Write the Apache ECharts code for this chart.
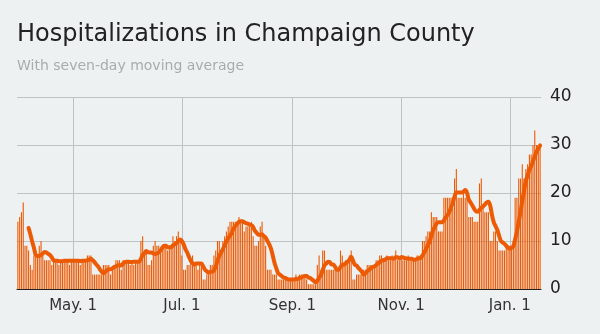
<!DOCTYPE html>
<html>
<head>
<meta charset="utf-8">
<script src="https://cdn.jsdelivr.net/npm/echarts@6/dist/echarts.min.js"></script>
<style>
  html, body { margin: 0; padding: 0; background: #edf1f2; }
  #chart { width: 600px; height: 334px; }
</style>
</head>
<body>
<div id="chart"></div>
<script>
// First day of the daily series (UTC); one bar per day from here on.
const startDate = [2020, 2, 31];

// Daily hospitalizations, Mar 31 2020 - Jan 18 2021
const hospitalized = [
  14,15,16,18,9,9,8,5,4,7,
  8,7,9,10,7,6,6,6,6,5,
  6,6,6,5,6,6,6,6,6,5,
  6,6,6,6,6,5,6,6,6,7,
  7,7,3,3,3,3,3,3,5,5,
  5,5,3,4,5,6,6,6,4,6,
  6,6,6,5,6,5,6,6,6,10,
  11,8,8,5,5,6,9,10,9,9,
  8,9,9,9,8,9,9,11,10,11,
  12,10,7,4,4,5,5,6,7,5,
  5,4,5,5,2,2,3,3,5,5,
  7,8,10,10,8,10,11,12,13,14,
  14,14,14,14,15,14,14,12,13,13,
  13,14,11,9,9,10,13,14,11,9,
  4,4,4,3,3,3,2,2,2,2,
  2,2,2,2,2,2,3,2,3,3,
  3,3,2,1,1,1,1,1,5,7,
  4,8,8,4,4,4,4,4,4,4,
  4,8,7,5,6,6,7,8,2,2,
  3,3,3,4,4,4,5,5,5,5,
  5,6,6,7,7,6,6,7,6,6,
  7,6,8,6,6,7,6,6,6,7,
  6,6,6,6,7,7,7,10,10,11,
  12,12,16,15,15,15,12,12,12,19,
  19,19,19,19,17,23,25,19,19,19,
  20,19,19,15,15,15,14,14,14,22,
  23,17,16,16,16,10,10,12,12,10,
  8,8,8,8,9,9,9,9,10,19,
  19,23,23,26,23,25,26,28,28,30,
  33,30,30,30
];

// Seven-day moving average (starts on the seventh day)
const movingAverage = [
  null,null,null,null,null,null,12.7,11.4,9.9,8.6,
  7.1,6.9,6.9,7.1,7.4,7.7,7.6,7.3,7.1,6.6,
  6.0,5.9,5.9,5.8,5.8,5.8,5.9,5.9,5.9,5.9,
  5.9,5.9,5.9,5.9,5.9,5.8,5.9,5.9,5.9,6.0,
  6.1,6.3,6.0,5.6,5.1,4.7,4.1,3.6,3.3,3.6,
  3.9,4.1,4.1,4.3,4.6,4.7,4.9,5.0,4.9,5.3,
  5.6,5.7,5.7,5.6,5.6,5.7,5.7,5.7,5.7,6.3,
  7.1,7.4,7.9,7.7,7.6,7.6,7.4,7.3,7.4,7.6,
  8.0,8.6,9.0,9.0,8.7,8.7,8.7,9.1,9.3,9.6,
  10.0,10.3,10.0,9.3,8.3,7.6,6.7,5.9,5.4,5.1,
  5.3,5.3,5.3,5.3,4.7,4.0,3.7,3.4,3.6,3.6,
  3.9,4.7,5.9,6.9,7.6,8.3,9.1,9.9,10.6,11.1,
  11.7,12.6,13.1,13.6,14.0,14.1,14.1,13.9,13.7,13.6,
  13.4,13.3,12.9,12.1,11.7,11.3,11.3,11.4,11.0,10.7,
  10.0,9.3,8.4,7.0,5.4,4.3,3.3,3.0,2.7,2.4,
  2.3,2.1,2.0,2.0,2.0,2.0,2.1,2.1,2.3,2.4,
  2.6,2.7,2.7,2.4,2.3,2.0,1.7,1.4,1.7,2.4,
  2.9,3.9,4.9,5.3,5.7,5.6,5.1,5.1,4.6,4.0,
  4.0,4.6,5.0,5.1,5.4,5.7,6.1,6.7,5.9,5.1,
  4.9,4.4,4.0,3.6,3.0,3.3,3.7,4.0,4.3,4.6,
  4.7,5.0,5.3,5.6,5.9,6.0,6.1,6.4,6.4,6.4,
  6.4,6.3,6.6,6.6,6.4,6.6,6.6,6.4,6.4,6.3,
  6.3,6.3,6.1,6.1,6.3,6.4,6.4,7.0,7.6,8.3,
  9.1,9.9,11.1,12.3,13.0,13.7,13.9,13.9,13.9,14.3,
  14.9,15.4,16.0,17.0,17.9,19.3,20.1,20.1,20.1,20.1,
  20.3,20.6,20.0,18.6,18.0,17.4,16.7,16.2,16.1,16.5,
  16.9,17.2,17.6,18.0,18.2,17.4,15.4,13.9,13.1,12.3,
  11.1,10.0,9.7,9.4,9.0,8.6,8.4,8.6,8.9,10.4,
  12.0,14.0,16.0,18.4,20.4,22.6,23.6,24.9,25.6,26.6,
  27.6,28.6,29.3,29.9
];

// Dates that get a label and a vertical grid line
const tickDates = ['2020-05-01', '2020-07-01', '2020-09-01', '2020-11-01', '2021-01-01'];
const tickLabels = ['May. 1', 'Jul. 1', 'Sep. 1', 'Nov. 1', 'Jan. 1'];

const titleText = 'Hospitalizations in Champaign County';
const subtitleText = 'With seven-day moving average';

// Category axis: one ISO date per bar
const days = hospitalized.map(function (_, i) {
  const d = new Date(Date.UTC(startDate[0], startDate[1], startDate[2] + i));
  return d.toISOString().slice(0, 10);
});

const isTick = function (index, value) { return tickDates.indexOf(value) !== -1; };

const ORANGE = '#ec5a04';
const GRID = '#bfc2c3';
const FONT = 'DejaVu Sans';

const chart = echarts.init(document.getElementById('chart'), null, { renderer: 'canvas' });

chart.setOption({
  backgroundColor: '#edf1f2',
  animation: false,
  title: [
    {
      text: titleText,
      left: 17,
      top: 23,
      padding: 0,
      textStyle: { fontFamily: FONT, fontSize: 24, fontWeight: 'normal', color: '#222' }
    },
    {
      text: subtitleText,
      left: 17,
      top: 59,
      padding: 0,
      textStyle: { fontFamily: FONT, fontSize: 14, fontWeight: 'normal', color: '#a9acad' }
    }
  ],
  grid: { left: 17, right: 59, top: 97, bottom: 45, containLabel: false },
  xAxis: {
    type: 'category',
    data: days,
    boundaryGap: true,
    axisLine: { show: true, lineStyle: { color: '#222', width: 1 } },
    axisTick: { show: false },
    axisLabel: {
      interval: isTick,
      formatter: function (v) { return tickLabels[tickDates.indexOf(v)]; },
      color: '#333',
      fontFamily: FONT,
      fontSize: 15,
      margin: 10
    },
    splitLine: {
      show: true,
      interval: isTick,
      alignWithLabel: true,
      lineStyle: { color: GRID, width: 1 }
    }
  },
  yAxis: {
    type: 'value',
    position: 'right',
    min: 0,
    max: 40,
    interval: 10,
    axisLine: { show: false },
    axisTick: { show: false },
    axisLabel: { color: '#222', fontFamily: FONT, fontSize: 17, margin: 9 },
    splitLine: { show: true, lineStyle: { color: GRID, width: 1 } }
  },
  series: [
    {
      name: 'Hospitalizations',
      type: 'bar',
      data: hospitalized,
      barWidth: '62%',
      itemStyle: { color: ORANGE },
      silent: true
    },
    {
      name: 'Seven-day average',
      type: 'line',
      data: movingAverage,
      smooth: 0.3,
      showSymbol: false,
      connectNulls: false,
      lineStyle: { color: ORANGE, width: 4, cap: 'round', join: 'round' },
      silent: true,
      z: 3
    }
  ]
});
</script>
</body>
</html>
